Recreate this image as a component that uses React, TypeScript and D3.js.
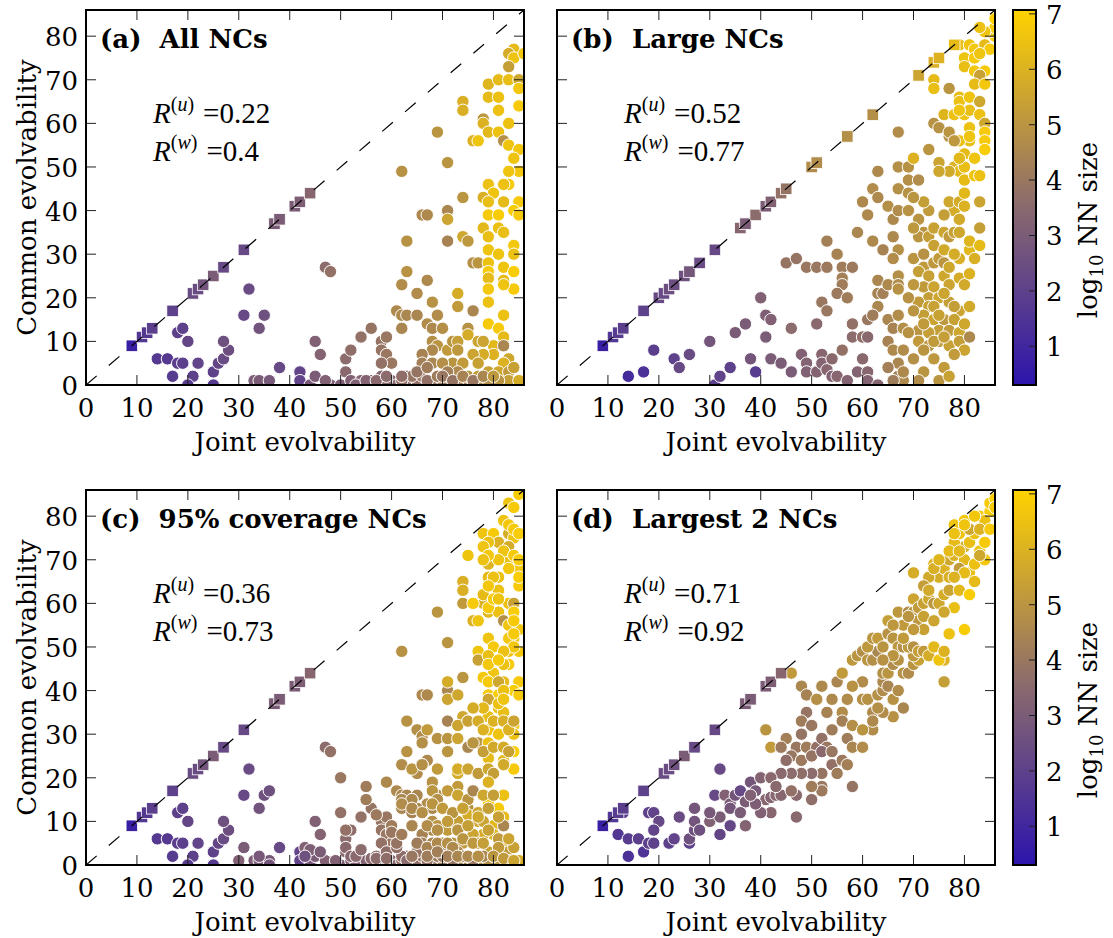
import * as d3 from "d3";

const W = 1113;
const H = 938;
const PW = 438;
const PH = 375;

const axisTicks = [0, 10, 20, 30, 40, 50, 60, 70, 80];
const cbarTicks = [1, 2, 3, 4, 5, 6, 7];
const axisMax = 86;
const sizeMin = 0.301; // log10(2)
const sizeMax = 7.07;

// squares sit on the diagonal: [joint = common evolvability, log10 NN size]
const aSquares: [number, number][] = [
  [9, 0.7], [11, 1.6], [12, 1.7], [13, 1.9], [17, 2.0], [21, 2.4], [22, 2.4], [23, 2.7],
  [25, 3.0], [27, 2.3], [31, 2.3], [37, 3.0], [38, 3.0], [41, 3.0], [42, 3.1], [44, 3.4],
];

// circles: [joint evolvability, common evolvability, log10 NN size]
const aCircles: [number, number, number][] = [
  [14, 6, 1.7], [16, 6, 1.7], [17, 2, 1.8], [18, 5, 1.9], [19, 5, 1.9], [18, 12, 2.0], [19, 13, 2.0],
  [20, 10, 2.2], [21, 2, 2.0], [20, 0, 1.8], [22, 5, 2.1], [25, 0, 1.7], [25, 3, 2.0], [26, 5, 2.2],
  [27, 6, 2.4], [28, 8, 2.5], [27, 10, 2.6], [31, 16, 2.3], [32, 22, 2.4], [34, 13, 2.7], [35, 16, 2.6],
  [38, 4, 2.3], [33, 1, 3.0], [34, 1, 3.0], [36, 1, 2.9], [42, 3, 2.1], [42, 1, 2.1], [44, 0, 2.9],
  [45, 10, 3.2], [46, 7, 3.3], [45, 2, 3.0], [47, 27, 3.6], [48, 26, 3.8], [48, 0, 3.0], [51, 3, 3.5],
  [51, 6, 3.6], [52, 8, 3.7], [54, 11, 3.8], [56, 13, 3.9], [50, 0, 3.1], [52, 1, 3.2], [54, 1, 3.3],
  [56, 1, 3.2], [57, 1, 3.3], [58, 2, 3.4], [60, 1, 3.3], [62, 1, 3.4], [63, 2, 3.6], [64, 1, 3.5],
  [66, 2, 3.5], [58, 10, 3.9], [59, 11, 4.0], [58, 8, 3.9], [59, 7, 4.0], [60, 5, 4.0], [58, 5, 3.8],
  [47, 1, 3.2], [53, 0, 3.2], [55, 1, 3.3], [61, 0, 3.4], [63, 0, 3.6], [65, 1, 3.7], [68, 0, 3.9],
  [70, 1, 4.1], [74, 0, 4.4], [76, 0, 4.6], [78, 0, 4.7], [80, 0, 5.0], [82, 0, 5.2], [84, 0, 5.5],
  [62, 49, 4.9], [63, 33, 4.9], [63, 26, 4.9], [62, 23, 4.7], [61, 17, 4.6], [62, 16, 4.6], [63, 16, 4.5],
  [62, 13, 4.5], [65, 21, 4.7], [65, 16, 4.5], [66, 39, 4.6], [67, 39, 4.6], [67, 24, 4.6], [68, 19, 4.9],
  [67, 14, 4.7], [68, 13, 4.6], [69, 58, 5.0], [71, 51, 5.0], [71, 40, 4.5], [71, 38, 5.5], [71, 33, 4.4],
  [74, 43, 5.0], [74, 34, 5.6], [75, 33, 5.1], [69, 16, 4.7], [73, 21, 5.8], [73, 18, 5.2], [76, 28, 4.8],
  [77, 28, 5.0], [76, 17, 4.5], [70, 13, 4.8], [75, 13, 4.9],
  [68, 10, 4.8], [69, 9, 5.0], [68, 8, 4.6], [66, 7, 4.4], [66, 5, 4.3], [68, 5, 4.5], [71, 8, 5.2],
  [72, 10, 5.0], [73, 10, 5.3], [73, 8, 5.1], [72, 5, 5.0], [75, 11.5, 5.8], [77, 10, 5.5], [80, 9, 6.2],
  [80, 7, 6.0], [83, 6, 5.6], [82, 5, 6.0], [78, 7, 5.8], [76, 7, 5.5], [77, 5, 5.4], [74, 5, 5.2],
  [70, 5, 4.8], [64, 2, 3.9], [62, 1, 3.8], [59, 1, 3.5], [57, 1, 3.5], [59, 2, 3.6], [62, 2, 3.7],
  [66, 2, 4.0], [67, 1, 3.8], [69, 2, 4.2], [71, 2, 4.4], [73, 1, 4.3], [75, 2, 5.0], [77, 2, 5.2],
  [79, 3, 5.4], [81, 3, 5.6], [83, 3, 5.2], [83, 1, 5.3], [85, 1, 5.8], [81, 1, 5.0], [79, 1, 4.8],
  [73, 3, 4.6], [71, 3, 4.3], [65, 3, 3.9], [67, 4, 4.2], [70, 2, 4.0], [72, 1, 3.9], [74, 2, 4.4],
  [76, 1, 4.0], [78, 2, 4.5], [80, 2, 5.1], [84, 4, 5.4],
  [74, 65, 5.9], [74, 63, 5.9], [79, 69, 6.1], [81, 70, 6.3], [79, 66, 6.3], [81, 66, 6.5], [78, 61, 5.1],
  [78, 60, 6.0], [79, 58, 6.2], [81, 58, 6.5], [76, 56, 6.0], [77, 56, 6.6], [79, 46, 6.5], [80, 44, 6.6],
  [78, 43, 5.9], [79, 42, 6.4], [79, 39, 6.8], [81, 39, 6.9], [78, 36, 6.2], [79, 34, 6.4], [79, 31, 6.6],
  [79, 28, 6.5], [79, 26, 6.8], [79, 24.5, 6.3], [79, 22, 6.7], [79, 19, 6.5], [79, 14, 6.8], [84, 77, 6.3],
  [83, 76, 5.8], [84, 75, 6.6], [86, 76, 6.7], [83, 73, 5.3], [83, 70, 6.4], [85, 70, 5.6], [85, 68, 6.7],
  [81, 63, 6.5], [85, 64, 6.8], [83, 60, 6.5], [82, 56, 4.8], [83, 55, 6.6], [85, 54, 6.7], [84, 52, 6.6],
  [85, 49, 6.7], [83, 49, 6.6], [83, 46, 6.8], [82, 46, 6.5], [85, 42, 6.8], [84, 40, 6.9], [85, 39, 6.8],
  [82, 42, 6.3], [81, 36, 6.5], [82, 35, 6.4], [81, 30, 6.6], [84, 32, 6.7], [84, 30, 6.5], [82, 27, 6.6],
  [84, 26, 6.9], [82, 24, 6.3], [84, 22, 6.8], [82, 23, 6.6], [82, 16, 6.5], [81, 13, 6.8], [82, 11, 6.3],
  [78, 10, 5.5], [82, 9, 4.5],
];

const bSquares: [number, number][] = [
  [9, 0.7], [11, 1.6], [12, 1.8], [13, 1.9], [17, 2.0], [20, 2.3], [21, 2.3], [22, 2.5], [23, 2.5],
  [25, 2.6], [26, 2.8], [28, 2.4], [31, 2.3], [36, 3.4], [37, 3.0], [39, 3.6], [41, 3.0], [42, 3.2],
  [44, 3.8], [45, 3.9], [50, 4.7], [51, 4.7], [57, 4.8], [62, 4.8], [71, 5.5], [74, 5.9], [75, 6.0], [78, 6.3],
];

const bCircles: [number, number, number][] = [
  [14, 2, 1.2], [17, 3, 1.4], [19, 8, 1.9], [23, 6, 2.0], [24, 4, 2.3], [26, 7, 2.4], [30, 10, 2.8],
  [31, 0, 1.9], [32, 2, 2.1], [34, 4, 2.0], [35, 12, 3.0], [37, 14, 3.0], [38, 6, 2.8], [39, 3, 1.8],
  [40, 20, 3.2], [41, 16, 3.1], [42, 15, 3.2], [41, 11, 3.0], [42, 6, 3.0], [44, 5, 3.0], [46, 13, 3.6],
  [46, 3, 3.0], [45, 28, 3.9], [47, 29, 3.9], [48, 7, 3.2], [49, 5, 3.3], [49, 3, 3.2], [51, 3, 3.3],
  [52, 7, 3.4], [52, 5, 3.3], [53, 3.5, 3.4], [54, 6, 3.5], [54, 2, 3.2], [49, 27, 4.0], [51, 27, 4.0],
  [53, 27, 4.1], [51, 14, 3.5], [52, 19, 4.0], [53, 17, 4.0], [53, 33, 4.3], [55, 30, 4.4], [56, 27, 4.2],
  [58, 27, 4.1], [56, 24.5, 4.3], [56, 23, 4.2], [55, 21, 4.1], [57, 20, 4.2], [56, 8, 3.8], [55, 2, 3.4],
  [57, 1, 3.3], [58, 14, 3.8], [58, 11, 3.6], [60, 11, 3.7], [61, 11, 3.5], [60, 6, 3.5], [59, 3, 3.3],
  [61, 3, 3.4], [61, 1, 3.3], [63, 0, 3.4], [59, 35, 4.5], [60, 42, 4.6], [61, 39, 4.6], [62, 33, 4.6],
  [64, 31, 4.4], [63, 49, 4.6], [67, 58, 4.7], [62, 45, 4.7], [63, 43, 4.6], [65, 41, 4.8], [66, 38, 4.6],
  [67, 40, 4.7], [66, 34, 4.6], [67, 31, 4.8], [66, 29, 4.7], [63, 24, 4.5], [63, 21, 4.4], [64, 21, 4.3],
  [63, 18, 4.5], [65, 23, 4.6], [67, 25, 4.8], [67, 23, 4.7], [67, 22, 4.9], [61, 15, 4.0], [62, 16, 4.2],
  [65, 15, 4.5], [67, 16, 4.7], [66, 13, 4.4], [68, 13, 4.8], [65, 10, 4.4], [66, 8, 4.6], [68, 8, 4.7],
  [67, 5, 4.5], [65, 4, 4.3], [67, 2, 4.3], [68, 1, 4.6], [66, 1, 4.2],
  [67, 45, 4.8], [69, 47, 4.8], [69, 44, 4.9], [71, 47, 4.7], [67, 50, 4.8], [69, 50, 4.9], [70, 52, 6.0],
  [73, 54, 5.0], [69, 40, 4.9], [71, 38, 5.0], [72, 35, 5.0], [73, 40, 5.2], [70, 29, 5.0], [72, 30, 4.9],
  [72, 27, 5.2], [74, 28, 5.1], [75, 29, 5.2], [76, 28, 5.0], [71, 34, 5.0], [73, 34, 5.3], [74, 36, 5.4],
  [76, 35, 5.5], [77, 34, 5.2], [78, 35, 5.4], [79, 35, 5.6], [78, 40, 5.8], [76, 39, 5.3], [77, 42, 5.6],
  [79, 42, 5.8], [80, 44, 6.2], [80, 41, 6.0], [79, 38, 5.7], [78, 50, 6.0], [79, 49, 6.2], [80, 50, 6.4],
  [77, 49, 5.7], [80, 47, 6.3], [82, 48, 6.6], [83, 48, 6.5], [83, 42, 5.5], [83, 36, 5.3], [80, 53, 6.3],
  [82, 52, 6.6], [81, 56, 6.4], [79, 52, 6.2], [77, 57, 4.8], [79, 56, 6.5], [74, 60, 4.9], [76, 62, 6.1],
  [78, 62, 6.5], [80, 62, 6.6], [81, 63, 6.4], [83, 62, 6.5], [84, 60, 5.6], [74, 70, 6.3], [74, 68, 6.4],
  [77, 68, 5.0], [79, 66, 6.4], [79, 65, 6.5], [81, 66, 6.6], [83, 65, 5.6], [79, 63, 6.6], [81, 59, 6.5],
  [81, 57, 6.6], [84, 58, 6.8], [84, 56, 6.8], [84, 54, 6.9], [75, 59, 4.9], [77, 58, 5.0], [78, 56, 5.1],
  [75, 51, 5.5], [75, 49, 5.6],
  [79, 78, 6.4], [81, 78, 6.6], [82, 77, 6.7], [84, 78, 6.3], [85, 77, 6.8], [86, 80, 6.9], [85, 81, 6.7],
  [86, 82, 6.9], [84, 81, 6.6], [83, 82, 6.5], [86, 84, 7.0], [80, 75, 6.6], [82, 75, 6.8], [83, 76, 6.6],
  [80, 73, 6.4], [82, 72, 6.7], [84, 72, 6.8], [83, 71, 5.4], [82, 69, 6.3], [84, 69, 6.7],
  [71, 26, 5.3], [73, 25, 5.4], [72, 22.5, 5.2], [74, 22.5, 5.5], [73, 20, 5.3], [76, 25, 5.6], [77, 23, 5.5],
  [79, 24.5, 5.8], [80, 23, 5.7], [81, 25.5, 6.0], [79, 29, 5.9], [81, 31, 6.2], [82, 29, 5.9], [81, 33, 6.1],
  [83, 32, 6.3], [71, 19, 5.2], [73, 18, 5.4], [75, 20, 5.6], [77, 19, 5.3], [79, 17, 5.5], [81, 18, 5.7],
  [72, 16, 5.3], [74, 15, 5.5], [76, 15, 5.1], [78, 15, 5.4], [75, 12.5, 5.3], [77, 12.5, 5.2], [79, 12, 5.6],
  [71, 12.5, 5.0], [73, 12, 5.3], [69, 12, 4.9], [71, 10, 5.2], [73, 9, 5.0], [75, 10, 5.1], [77, 9, 5.4],
  [79, 10, 5.3], [80, 8, 5.5], [81, 11, 4.6], [74, 6, 5.1], [76, 4, 5.2], [75, 1, 5.0], [77, 2, 5.4],
  [72, 3, 5.0], [70, 6, 4.8], [68, 3, 4.6], [71, 1, 4.7],
  [70, 17, 5.0], [72, 14, 5.2], [74, 18, 5.4], [76, 21, 5.5], [78, 18, 5.3], [80, 14, 5.6], [70, 23, 5.1],
  [72, 8, 5.0], [74, 10, 5.2], [76, 11, 5.3], [78, 7, 5.2], [69, 20, 4.9], [75, 16, 5.4], [77, 27, 5.6],
  [74, 32, 5.4], [70, 36, 5.1], [72, 42, 5.3], [70, 43, 5.0], [76, 31, 5.7], [78, 30, 5.8],
];

// panel (c) holds the points of (a) plus the extra NCs that reach 95% coverage
const cExtra: [number, number, number][] = [
  [36, 17, 2.6], [31, 4, 3.0], [34, 2, 2.9], [36, 0, 2.8], [30, 1, 3.2], [43, 4, 3.2], [44, 3.5, 3.1],
  [43, 2, 2.6], [46, 3, 3.0], [50, 20, 4.0], [50, 12, 3.8], [51, 8, 3.8], [51, 4, 3.5], [52, 2, 3.4],
  [53, 2, 3.5], [54, 3.5, 3.6], [55, 18, 4.2], [55, 15, 4.2], [59, 19, 4.6], [49, 1, 3.2], [56, 1.5, 3.5],
  [57, 2, 3.6], [59, 3, 3.7], [61, 4, 3.8], [63, 1, 3.6], [60, 8, 4.1], [61, 5, 3.9], [64, 15, 4.6],
  [64, 12, 4.4], [65, 13, 4.6], [65, 31, 4.8], [66, 29.5, 4.7], [66, 23, 4.6], [62, 15, 4.5],
  [85, 85, 6.9], [83, 83, 6.6], [84, 82, 6.8], [82, 79, 6.6], [83, 78, 6.7], [84, 77, 6.8], [85, 76, 6.9],
  [78, 76, 6.6], [80, 76, 6.8], [81, 74, 6.0], [79, 74, 6.5], [78, 73, 6.6], [83, 73, 5.8], [82, 72, 6.6],
  [84, 71, 6.8], [85, 70, 6.9], [81, 70, 6.6], [79, 71, 6.7], [78, 70, 6.5], [75, 71, 6.6], [83, 68, 6.7],
  [85, 66, 6.9], [80, 66, 6.5], [74, 60, 5.2], [76, 60, 6.8], [78, 62, 6.3], [79, 64, 6.7], [79, 59, 6.8],
  [80, 61, 6.9], [81, 61, 6.6], [84, 60, 5.4], [84, 58, 6.9], [84, 56, 6.8], [83, 52, 6.7], [84, 53, 6.8],
  [79, 52, 6.6], [80, 50, 6.8], [84, 50, 6.7], [77, 49, 6.6], [77, 47, 5.4], [79, 48, 6.4], [79, 46, 6.7],
  [82, 49, 6.5], [81, 47, 6.8], [78, 43, 6.7], [79, 42, 6.8], [81, 42, 5.6], [82, 40, 6.5], [79, 38, 5.5],
  [78, 36, 6.2], [81, 37, 6.5], [82, 38, 6.6], [71, 42, 5.8], [73, 39, 5.6], [76, 36, 5.8], [73, 32, 5.5],
  [75, 33, 5.4], [77, 33, 5.8], [78, 31, 6.0], [80, 33, 6.0], [82, 33, 5.9], [83, 31, 6.0], [84, 33, 5.5],
  [67, 31, 5.2], [69, 29, 4.9], [71, 29, 5.0], [73, 29, 5.5], [75, 27, 4.5], [76, 28, 5.0], [78, 26, 5.3],
  [80, 27, 5.7], [82, 27, 5.8], [83, 26, 5.4], [66, 28, 4.8], [64, 22, 5.0], [66, 23, 4.8], [69, 22, 5.2],
  [71, 26, 5.0], [73, 22, 5.8], [75, 22, 5.5], [77, 21, 5.2], [79, 22, 5.6], [80, 21, 5.3], [82, 23, 5.7],
  [79, 19, 6.0], [64, 15, 4.6], [68, 17, 5.0], [69, 15, 4.8], [71, 17, 5.2], [73, 16, 5.5], [75, 15, 5.0],
  [76, 17, 4.5], [78, 16, 5.6], [80, 16, 5.3], [57, 11.5, 4.1], [62, 14, 4.7], [64, 13, 4.6], [66, 12, 4.8],
  [68, 14, 5.0], [70, 13, 5.2], [72, 12, 5.0], [74, 13, 5.4], [77, 12, 5.5], [79, 13, 5.3], [81, 11, 5.4],
  [60, 9, 4.2], [60, 7.5, 4.0], [62, 7, 4.2], [64, 9, 4.5], [67, 9, 4.7], [69, 8, 4.8], [71, 10, 5.2],
  [73, 8, 5.0], [75, 9, 5.3], [77, 11, 5.6], [79, 8, 5.4], [81, 6, 5.2], [83, 6, 5.5], [65, 5, 4.2],
  [67, 4, 4.4], [69, 5, 4.6], [71, 5, 4.8], [72, 4, 4.6], [74, 6, 5.0], [76, 5, 5.1], [78, 5, 5.3],
  [81, 4, 5.2], [64, 2, 4.0], [67, 2, 4.2], [69, 3, 4.3], [71, 2, 4.3], [73, 2, 4.5], [75, 2, 4.6],
  [77, 2, 4.8], [80, 2, 5.0], [82, 1.5, 5.2], [84, 1, 5.5], [57, 1.5, 3.6], [59, 1.5, 3.7],
];

const dSquares: [number, number][] = [
  [9, 0.7], [11, 1.6], [12, 1.8], [13, 1.9], [17, 2.0], [21, 2.4], [22, 2.4], [23, 2.6],
  [25, 3.0], [27, 2.3], [31, 2.3], [37, 3.0], [38, 3.0], [41, 3.0], [42, 3.1], [44, 3.4],
];

const dCircles: [number, number, number][] = [
  [14, 2, 1.4], [17, 3, 1.5], [12, 7, 1.6], [14, 6, 1.8], [16, 6, 1.9], [18, 5, 2.0], [19, 5, 2.0],
  [13, 12, 1.9], [18, 12, 2.0], [19, 12, 2.1], [20, 10, 2.3], [19, 8, 2.1], [22, 5, 2.0], [23, 6, 2.1],
  [24, 11, 2.4], [26, 5, 2.0], [26, 6, 2.6], [27, 8, 2.6], [27, 10, 2.7], [27, 13, 2.8], [28, 8, 2.6],
  [30, 10, 3.2], [32, 11, 3.0], [32, 7, 2.2], [34, 9, 2.2], [37, 9, 3.3], [31, 16, 2.3], [32, 22, 2.3],
  [33, 16, 3.2], [34, 14, 3.0], [34, 13, 2.8], [35, 16, 2.8], [36, 17, 2.3], [37, 14.5, 3.0], [38, 19, 2.8],
  [39, 17, 2.9], [40, 20, 3.3], [41, 15, 3.4], [42, 15.5, 3.3], [43, 16, 3.4], [42, 12, 3.4], [40, 12, 3.2],
  [39, 14, 3.1], [38, 16, 3.2], [47, 11, 3.5], [44, 16, 3.4], [47, 16, 3.5], [50, 15, 3.7],
  [41, 31, 5.0], [42, 27, 5.2], [45, 29, 4.3], [46, 44, 5.2], [48, 41, 4.5], [49, 39, 4.4], [51, 38, 4.8],
  [52, 41, 4.6], [49, 35, 3.9], [48, 33, 4.2], [50, 32, 4.0], [48, 30, 3.9], [47, 27, 4.0], [49, 27, 4.2],
  [51, 27, 3.8], [52, 29, 3.8], [53, 27, 4.0], [54, 31, 4.2], [53, 35, 4.4], [55, 42, 4.5], [56, 35, 4.7],
  [56, 33, 4.3], [58, 32, 4.8], [57, 29, 4.2], [58, 27, 4.5], [60, 27, 4.7], [44, 27, 4.1], [46, 25, 4.0],
  [48, 24, 4.1], [50, 25, 3.9], [52, 26, 3.5], [54, 23, 3.8], [56, 24, 4.1], [57, 23, 4.3], [55, 21, 4.2],
  [52, 21, 3.9], [50, 21, 3.6], [48, 21, 3.7], [46, 21, 3.6], [44, 21, 3.5], [42, 20, 3.5], [52, 18, 4.0],
  [52, 17, 4.1], [58, 18, 3.9], [50, 18, 4.2], [46, 17, 3.8],
  [60, 42, 4.7], [60, 38, 4.8], [61, 38, 4.9], [62, 35, 4.6], [63, 39, 4.8], [64, 40, 4.7], [64, 42, 4.6],
  [65, 41, 4.5], [66, 38, 4.9], [67, 40, 4.7], [68, 36, 4.5], [66, 34, 4.9], [64, 35, 4.7], [63, 36, 4.8],
  [62, 31, 4.7], [60, 31, 5.0], [62, 33, 4.6], [56, 44, 5.2], [58, 47, 5.1], [59, 48, 5.0], [60, 49, 4.8],
  [61, 47, 5.0], [62, 47, 4.8], [63, 49, 4.5], [64, 44, 4.8], [65, 44, 5.0], [66, 46, 4.7], [67, 47, 4.9],
  [68, 44, 4.9], [69, 44, 4.7], [70, 46, 5.0], [71, 47, 5.4], [70, 48, 5.1], [61, 50, 5.1], [62, 52, 5.0],
  [63, 52, 5.2], [65, 53, 4.9], [66, 52, 5.0], [67, 50, 5.1], [68, 50, 4.8], [69, 50, 5.1], [70, 50, 4.9],
  [71, 49, 5.3], [72, 49, 5.2], [73, 48, 5.8], [74, 50, 6.2], [76, 47, 6.0], [76, 42, 5.3], [77, 53, 6.5],
  [65, 56, 5.3], [67, 58, 5.1], [69, 58, 4.7], [70, 58, 5.0], [71, 56, 5.1], [72, 54, 5.4], [68, 55, 5.2],
  [69, 57, 5.0], [75, 47, 6.6], [76, 49, 6.0],
  [70, 61, 5.5], [71, 59, 5.2], [72, 60, 5.4], [73, 61, 5.6], [74, 60, 5.1], [75, 60, 5.6], [76, 62, 5.8],
  [77, 63, 5.5], [79, 63, 6.2], [81, 62, 6.6], [78, 59, 6.4], [80, 54, 6.9], [75, 66, 5.8], [76, 68, 6.0],
  [74, 69, 6.0], [77, 70, 5.6], [78, 71, 6.0], [80, 70, 6.2], [79, 68, 5.2], [81, 67, 6.4], [82, 65, 6.3],
  [82, 69, 6.5], [84, 70, 6.7], [83, 72, 6.6], [80, 73, 5.9], [78, 74, 6.3], [81, 74, 6.4], [79, 76, 6.6],
  [82, 76, 6.5], [84, 74, 6.8], [78, 78, 6.6], [80, 79, 6.7], [83, 80, 6.8], [85, 81, 6.9], [84, 79, 6.5],
  [85, 83, 6.8], [86, 84, 7.0], [86, 82, 6.8], [81, 77, 5.6], [83, 77, 6.0], [85, 77, 6.8], [70, 67, 5.8],
  [73, 66, 5.7], [72, 64, 5.3], [74, 68, 5.9], [75, 70, 6.1], [77, 72, 6.3], [78, 76, 6.5], [80, 78, 6.6],
  [82, 80, 6.7], [83, 71, 5.6], [80, 67, 6.3], [81, 62, 6.9],
  [66, 48, 5.0], [64, 47, 4.9], [68, 52, 5.2], [72, 57, 5.4], [74, 56, 5.5], [66, 55, 5.1], [64, 50, 5.0],
  [70, 54, 5.2], [73, 63, 5.7], [77, 66, 5.9], [79, 72, 6.2], [76, 58, 5.6], [78, 66, 6.0], [54, 38, 4.6],
  [57, 38, 4.7], [58, 41, 4.9], [54, 26, 4.0], [45, 24, 3.7], [43, 18, 3.5], [36, 12, 3.0], [30, 12, 2.9],
];

type Panel = {
  id: string;
  title: string;
  ru: string;
  rw: string;
  left: number;
  top: number;
  yLabels: boolean;
  squares: [number, number][];
  circles: [number, number, number][];
};

const panels: Panel[] = [
  { id: "a", title: "(a)  All NCs", ru: "0.22", rw: "0.4", left: 86, top: 10, yLabels: true, squares: aSquares, circles: aCircles },
  { id: "b", title: "(b)  Large NCs", ru: "0.52", rw: "0.77", left: 557, top: 10, yLabels: false, squares: bSquares, circles: bCircles },
  { id: "c", title: "(c)  95% coverage NCs", ru: "0.36", rw: "0.73", left: 86, top: 490, yLabels: true, squares: aSquares, circles: [...aCircles, ...cExtra] },
  { id: "d", title: "(d)  Largest 2 NCs", ru: "0.71", rw: "0.92", left: 557, top: 490, yLabels: false, squares: dSquares, circles: dCircles },
];

const color = d3
  .scaleLinear<string>()
  .domain([sizeMin, (sizeMin + sizeMax) / 2, sizeMax])
  .range(["#2c14ac", "#8f6e6a", "#ffd200"])
  .interpolate(d3.interpolateRgb);

const serif = "DejaVu Serif";
const mathFont = "Liberation Serif";

function RLine({ x, y, sup, value }: { x: number; y: number; sup: string; value: string }) {
  return (
    <text x={x} y={y} fontFamily={mathFont} fontSize={29}>
      <tspan fontStyle="italic">R</tspan>
      <tspan dy={-12} fontSize={20}>
        (<tspan fontStyle="italic">{sup}</tspan>)
      </tspan>
      <tspan dy={12} dx={9}>={value}</tspan>
    </text>
  );
}

function ScatterPanel({ p }: { p: Panel }) {
  const x = d3.scaleLinear().domain([0, axisMax]).range([p.left, p.left + PW]);
  const y = d3.scaleLinear().domain([0, axisMax]).range([p.top + PH, p.top]);
  const clipId = `clip-${p.id}`;
  const sq = 11.5;
  const right = p.left + PW;
  const bottom = p.top + PH;
  return (
    <g>
      <defs>
        <clipPath id={clipId}>
          <rect x={p.left} y={p.top} width={PW} height={PH} />
        </clipPath>
      </defs>
      <g clipPath={`url(#${clipId})`}>
        {p.circles.map(([jx, cy, s], i) => (
          <circle key={i} cx={x(jx)} cy={y(cy)} r={6.2} fill={color(s)} stroke="#fff" strokeWidth={1} />
        ))}
        {p.squares.map(([v, s], i) => (
          <rect key={i} x={x(v) - sq / 2} y={y(v) - sq / 2} width={sq} height={sq} fill={color(s)} stroke="#fff" strokeWidth={0.8} />
        ))}
        <line x1={x(0)} y1={y(0)} x2={x(axisMax)} y2={y(axisMax)} stroke="#000" strokeWidth={1.2} strokeDasharray="14,16" />
      </g>
      {/* inward ticks on all four sides */}
      {axisTicks.map((t) => (
        <g key={t} stroke="#222" strokeWidth={1}>
          <line x1={x(t)} x2={x(t)} y1={bottom} y2={bottom - 10} />
          <line x1={x(t)} x2={x(t)} y1={p.top} y2={p.top + 10} />
          <line x1={p.left} x2={p.left + 10} y1={y(t)} y2={y(t)} />
          <line x1={right} x2={right - 10} y1={y(t)} y2={y(t)} />
        </g>
      ))}
      <rect x={p.left} y={p.top} width={PW} height={PH} fill="none" stroke="#000" strokeWidth={2} />
      {axisTicks.map((t) => (
        <text key={t} x={x(t)} y={bottom + 32} textAnchor="middle" fontFamily={serif} fontSize={26}>
          {t}
        </text>
      ))}
      {p.yLabels &&
        axisTicks.map((t) => (
          <text key={t} x={p.left - 8} y={y(t) + 10} textAnchor="end" fontFamily={serif} fontSize={26}>
            {t}
          </text>
        ))}
      <text x={(p.left + right) / 2} y={bottom + 66} textAnchor="middle" fontFamily={serif} fontSize={26}>
        Joint evolvability
      </text>
      {p.yLabels && (
        <text transform={`translate(36, ${(p.top + bottom) / 2}) rotate(-90)`} textAnchor="middle" fontFamily={serif} fontSize={26}>
          Common evolvability
        </text>
      )}
      <text x={p.left + 14} y={p.top + 38} fontFamily={serif} fontSize={26} fontWeight="bold" style={{ whiteSpace: "pre" }}>
        {p.title}
      </text>
      <RLine x={p.left + 67} y={p.top + 113} sup="u" value={p.ru} />
      <RLine x={p.left + 67} y={p.top + 151} sup="w" value={p.rw} />
    </g>
  );
}

function ColorBar({ top, id }: { top: number; id: string }) {
  const cx = 1013;
  const cw = 23;
  const cs = d3.scaleLinear().domain([sizeMin, sizeMax]).range([top + PH, top]);
  const stops = d3.range(0, 1.0001, 0.05);
  return (
    <g>
      <defs>
        <linearGradient id={id} x1="0" y1="1" x2="0" y2="0">
          {stops.map((f) => (
            <stop key={f} offset={f} stopColor={color(sizeMin + f * (sizeMax - sizeMin))} />
          ))}
        </linearGradient>
      </defs>
      <rect x={cx} y={top} width={cw} height={PH} fill={`url(#${id})`} />
      {cbarTicks.map((t) => (
        <g key={t}>
          <line x1={cx + cw} x2={cx + cw - 7} y1={cs(t)} y2={cs(t)} stroke="#222" strokeWidth={1} />
          <text x={cx + cw + 10} y={cs(t) + 10} fontFamily={serif} fontSize={26}>
            {t}
          </text>
        </g>
      ))}
      <rect x={cx} y={top} width={cw} height={PH} fill="none" stroke="#000" strokeWidth={2} />
      <text transform={`translate(1097, ${top + 220}) rotate(-90)`} textAnchor="middle" fontFamily={serif} fontSize={26}>
        log
        <tspan dy={6} fontSize={18}>10</tspan>
        <tspan dy={-6}> NN size</tspan>
      </text>
    </g>
  );
}

export default function App() {
  return (
    <svg width={W} height={H} style={{ position: "absolute", left: 0, top: 0, background: "#fff" }}>
      <rect width={W} height={H} fill="#fff" />
      {panels.map((p) => (
        <ScatterPanel key={p.id} p={p} />
      ))}
      <ColorBar top={10} id="cbar-top" />
      <ColorBar top={490} id="cbar-bottom" />
    </svg>
  );
}
